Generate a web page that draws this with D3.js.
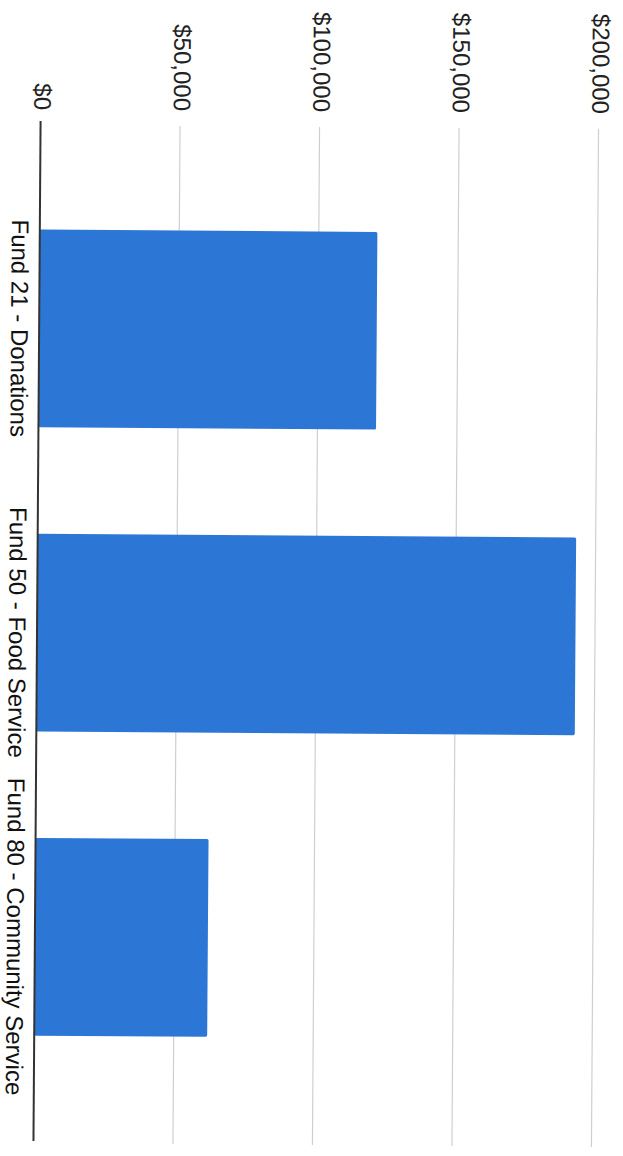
<!DOCTYPE html>
<html>
<head>
<meta charset="utf-8">
<script src="https://cdn.jsdelivr.net/npm/d3@7"></script>
<style>
  html, body { margin: 0; padding: 0; background: #fff; }
  svg { display: block; }
  text { font-family: "Liberation Sans", Arial, sans-serif; }
</style>
</head>
<body>
<script>
// ---- data ----
const categories = ["Fund 21 - Donations", "Fund 50 - Food Service", "Fund 80 - Community Service"];
const values = [121000, 193000, 62000];
const tickValues = [0, 50000, 100000, 150000, 200000];
const tickLabels = ["$0", "$50,000", "$100,000", "$150,000", "$200,000"];

// ---- layout ----
const W = 623, H = 1156;
const svg = d3.select("body").append("svg").attr("width", W).attr("height", H);
// scanned page is slightly skewed; the whole chart is rotated a little
const root = svg.append("g").attr("transform", "rotate(0.4 311 635)");

const x = d3.scaleLinear().domain([0, 200000]).range([37, 595]);
const y = d3.scaleBand().domain(categories).range([125, 1144]).padding(0.35);

// gridlines
root.append("g").selectAll("line.grid")
  .data(tickValues.slice(1))
  .join("line")
  .attr("x1", d => x(d)).attr("x2", d => x(d))
  .attr("y1", 127).attr("y2", 1145)
  .attr("stroke", "#cfcfcf").attr("stroke-width", 1.2);

// tick labels (rotated, reading top to bottom)
root.append("g").selectAll("text.tick")
  .data(tickValues)
  .join("text")
  .attr("transform", d => `translate(${x(d) + 2},112) rotate(90)`)
  .attr("text-anchor", "end")
  .attr("dy", "0.35em")
  .attr("font-size", 24)
  .attr("fill", "#222")
  .text((d, i) => tickLabels[i]);

// bars
root.append("g").selectAll("rect")
  .data(values)
  .join("rect")
  .attr("x", x(0))
  .attr("y", (d, i) => y(categories[i]))
  .attr("width", d => x(d) - x(0))
  .attr("height", y.bandwidth())
  .attr("rx", 1.5)
  .attr("fill", "#2c76d6");

// baseline
root.append("line")
  .attr("x1", x(0)).attr("x2", x(0))
  .attr("y1", 123).attr("y2", 1143)
  .attr("stroke", "#333").attr("stroke-width", 2);

// category labels
root.append("g").selectAll("text.cat")
  .data(categories)
  .join("text")
  .attr("transform", d => `translate(9,${y(d) + y.bandwidth() / 2}) rotate(90)`)
  .attr("text-anchor", "middle")
  .attr("font-size", 24)
  .attr("fill", "#111")
  .text(d => d);
</script>
</body>
</html>
